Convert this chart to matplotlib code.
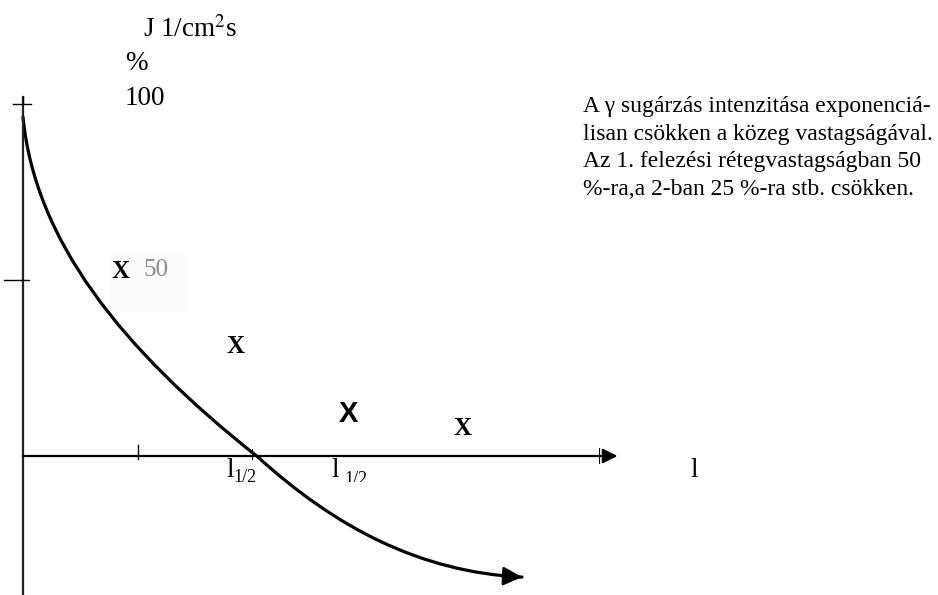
import matplotlib.pyplot as plt
from matplotlib.path import Path
from matplotlib.patches import PathPatch
from matplotlib.transforms import Bbox

plt.rcParams['font.family'] = ['Liberation Serif', 'DejaVu Serif']
plt.rcParams['mathtext.fontset'] = 'stix'

W, H = 938, 595

# curve read off the picture as two cubic pieces (start, ctrl, ctrl, end),
# thickness in half-value layers vs intensity in %
curve_x = [0.0, 0.104, 0.843, 2.043, 2.713, 3.452, 4.339]
curve_y = [96.3, 61.4, 30.7, -0.3, -20.2, -33.0, -34.4]
head_from = (4.16, -34.1)

y_ticks = [100, 50]
x_ticks = [1.0, 1.99]
x_axis_end = 5.17

# "X" marks
marks_x = [0.85, 1.85, 2.83, 3.82]
marks_y = [52.5, 31.0, 12.0, 7.7]
marks_sans = [False, False, True, False]

# pixel scale of the drawing
px_x = 115.0
px_y = 3.52
x0, y0 = 23, 456

fig = plt.figure(figsize=(W / 100, H / 100), dpi=100)
ax = fig.add_axes([0, 0, 1, 1])
ax.set_xlim(-x0 / px_x, (W - x0) / px_x)
ax.set_ylim((y0 - H) / px_y, y0 / px_y)
ax.axis('off')


def pix(x, y):
    return ((x - x0) / px_x, (y0 - y) / px_y)


# faint box behind "X 50"
bx0, by0 = pix(110, 312)
bx1, by1 = pix(188, 255)
ax.add_patch(plt.Rectangle((bx0, by0), bx1 - bx0, by1 - by0, color='#fbfbfb', lw=0, zorder=0))

# axes
ax.plot([0, 0], [(y0 - 97) / px_y, (y0 - H) / px_y], color='#222222', lw=1.6)
ax.annotate('', xy=(x_axis_end, 0), xytext=(0, 0),
            arrowprops=dict(arrowstyle='-|>', color='black', lw=1.6, mutation_scale=22,
                            shrinkA=0, shrinkB=0))
ax.plot([x_axis_end - 0.16] * 2, [-2.0, 2.3], color='black', lw=0.7)
ax.plot([-10 / px_x, 8 / px_x], [y_ticks[0], y_ticks[0]], color='black', lw=1.0)
ax.plot([0, 0], [y_ticks[0], y_ticks[0] + 2.0], color='black', lw=1.0)
ax.plot([-19 / px_x, 6 / px_x], [y_ticks[1], y_ticks[1]], color='black', lw=1.0)
ax.plot([x_ticks[0]] * 2, [-0.8, 3.1], color='black', lw=1.0)
ax.plot([x_ticks[1]] * 2, [-0.8, 2.0], color='black', lw=0.7)

# decay curve with arrow head
verts = list(zip(curve_x, curve_y))
codes = [Path.MOVETO] + [Path.CURVE4] * 6
ax.add_patch(PathPatch(Path(verts, codes), facecolor='none', edgecolor='black',
                       lw=2.3, capstyle='round'))
ax.annotate('', xy=(curve_x[-1], curve_y[-1]), xytext=head_from,
            arrowprops=dict(arrowstyle='-|>', color='black', lw=2.0, mutation_scale=28,
                            shrinkA=0, shrinkB=0))

for mx, my, sans in zip(marks_x, marks_y, marks_sans):
    if sans:
        ax.text(mx, my, 'X', fontsize=21, fontweight='bold', family='Liberation Sans',
                ha='center', va='center')
    else:
        ax.text(mx, my, 'X', fontsize=18, fontweight='bold', ha='center', va='center')

ax.text(*pix(143, 276), '50', fontsize=18, color='#8a8a8a', ha='left', va='baseline')

fs = 19.5
ax.text(*pix(143, 37), 'J 1/cm$^{2}$s', fontsize=fs, ha='left', va='baseline')
ax.text(*pix(125, 70), '%', fontsize=fs, ha='left', va='baseline')
ax.text(*pix(125, 105), '100', fontsize=fs, ha='left', va='baseline')

ax.text(*pix(226, 477), 'l', fontsize=fs, ha='left', va='baseline')
ax.text(*pix(233, 482), '1/2', fontsize=13, ha='left', va='baseline')
ax.text(*pix(331, 477), 'l', fontsize=fs, ha='left', va='baseline')
sub = ax.text(*pix(344, 484), '1/2', fontsize=13, ha='left', va='baseline')
sub.set_clip_box(Bbox.from_extents(0, H - 482, W, H))
sub.set_clip_on(True)

ax.text(*pix(690, 477), 'l', fontsize=fs, ha='left', va='baseline')

lines = ['A \u03b3 sugárzás intenzitása exponenciá-',
         'lisan csökken a közeg vastagságával.',
         'Az 1. felezési rétegvastagságban 50',
         '%-ra,a 2-ban 25 %-ra stb. csökken.']
for i, t in enumerate(lines):
    ax.text(*pix(583, 112 + 27.7 * i), t, fontsize=17, ha='left', va='baseline')

fig.savefig('out.png', dpi=100)
